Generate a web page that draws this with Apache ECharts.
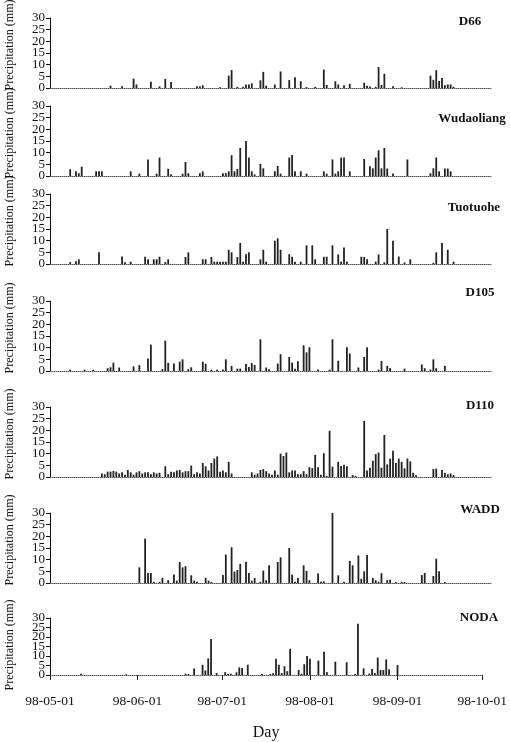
<!DOCTYPE html>
<html><head><meta charset="utf-8">
<script src="https://cdn.jsdelivr.net/npm/echarts@6/dist/echarts.min.js"></script>
<style>html,body{margin:0;padding:0;background:#fff}#c{width:510px;height:742px}</style>
</head><body><div id="c"></div><script>
// Station names (panel labels)
const stations = ['D66','Wudaoliang','Tuotuohe','D105','D110','WADD','NODA'];
// Month-start tick labels on the day axis
const tickLabels = ['98-05-01','98-06-01','98-07-01','98-08-01','98-09-01','98-10-01'];
// Precipitation tick labels
const yTicks = [0,5,10,15,20,25,30];
// Daily precipitation (mm): [day index since 1998-05-01, value]
const d66 = [[21,1],[25,0.8],[29,4],[30,1.5],[35,2.7],[38,0.7],[40,3.9],[42,2.6],[51,0.7],[52,0.7],[53,1.2],[59,0.3],[62,5.3],[63,7.7],[65,0.5],[67,0.5],[68,1.5],[69,1.5],[70,2],[73,3.3],[74,6.9],[75,1],[78,1.5],[80,7.1],[83,3.4],[85,4.6],[87,2.9],[89,0.4],[92,0.5],[95,7.9],[96,1.3],[99,2.9],[100,1.5],[102,1.2],[104,1.8],[109,2.3],[110,1],[111,0.6],[113,0.5],[114,9],[115,1.3],[116,6.1],[119,0.8],[122,0.3],[132,5.3],[133,3.5],[134,7.6],[135,3],[136,4.3],[137,1.2],[138,1.5],[139,1.5],[140,0.5]];
const wudaoliang = [[7,2.9],[9,2],[10,1.2],[11,4],[16,2],[17,2],[18,2],[28,2],[31,1],[34,7.1],[37,1],[38,7.9],[41,3.1],[42,0.8],[46,1],[47,6],[48,1.2],[52,1.2],[53,2],[60,1.2],[61,1.2],[62,2],[63,8.9],[64,2],[65,3],[66,12],[68,15],[69,7.9],[70,2],[71,0.7],[73,5.2],[74,3.3],[78,2],[79,4.3],[80,1],[83,7.9],[84,9],[85,2],[87,2],[89,1],[95,2],[96,1],[98,7.1],[99,1],[100,2],[101,7.9],[102,7.9],[104,2],[109,7.3],[111,4.2],[112,3.3],[113,7.9],[114,11],[115,3.3],[116,12],[117,3.2],[119,1.1],[124,7.1],[132,1.2],[133,3.3],[134,7.9],[135,2],[137,3.2],[138,3.2],[139,2]];
const tuotuohe = [[7,0.8],[9,1.2],[10,2],[17,5],[25,3.2],[26,0.7],[28,1],[33,3.1],[34,2],[36,2],[37,2],[38,3.1],[40,0.8],[41,2],[47,3],[48,5],[53,2],[54,2],[56,3],[57,1],[58,1],[59,1],[60,1],[61,1],[62,6.1],[63,5],[65,3],[66,9],[67,1],[68,4.2],[69,5],[73,2],[74,6.1],[75,1],[78,10],[79,11],[80,6.1],[83,4.2],[84,3.1],[85,1],[87,1],[89,8],[91,8],[92,2],[95,3.1],[96,3.1],[98,8],[100,4.1],[101,1],[102,7.1],[103,1],[108,3.1],[109,3],[110,2],[113,1],[114,4.1],[116,0.7],[117,15],[119,10],[121,3.2],[123,0.7],[125,2],[133,0.5],[134,5],[136,9],[138,6.1],[140,1]];
const d105 = [[7,0.6],[12,0.5],[15,0.5],[20,1.2],[21,1.6],[22,3.6],[24,1.5],[29,2],[31,2.5],[34,5.4],[35,11.3],[39,0.8],[40,13],[41,3.5],[43,3.2],[45,4],[46,5],[48,0.8],[49,1.6],[53,4],[54,3.1],[56,0.6],[58,0.6],[60,0.6],[61,5],[63,2.2],[65,1],[66,1],[68,3],[69,1.7],[70,3.4],[71,2.6],[73,13.6],[75,1.5],[76,0.8],[79,3.2],[80,7.2],[83,6],[84,3.6],[85,1],[86,4.2],[88,11],[89,8],[90,10.2],[93,0.6],[97,0.6],[98,13.6],[100,4.4],[103,10.2],[104,7.5],[107,1.5],[109,6],[110,10.2],[114,0.6],[115,4.3],[117,2.2],[118,1.3],[123,1],[129,2.8],[130,1.2],[132,0.6],[133,5],[134,1.2],[137,2.2]];
const d110 = [[18,1.5],[19,1.2],[20,2.3],[21,2.3],[22,2.6],[23,2.3],[24,1.5],[25,2],[26,1],[27,3],[28,2],[29,1],[30,2],[31,2.5],[32,1.5],[33,2],[34,2],[35,1.2],[36,2],[37,1.5],[38,1.8],[40,4.6],[41,1.2],[42,2.2],[43,2],[44,2.8],[45,3],[46,2],[47,2.5],[48,2.5],[49,4.9],[50,1.2],[51,2],[52,1.5],[53,6],[54,4.6],[55,2.8],[56,6],[57,7.9],[58,8.8],[59,2.3],[60,2.8],[61,2],[62,6.5],[63,1.5],[70,2],[71,1],[72,1.5],[73,3],[74,3.4],[75,2.5],[76,1.5],[77,1],[78,2.8],[79,1],[80,10],[81,9],[82,10.5],[83,2],[84,2.8],[85,2.8],[86,1.2],[87,1.2],[88,2.5],[89,1.2],[90,4.2],[91,3.8],[92,9.5],[93,4.2],[94,1],[95,10.2],[96,0.5],[97,19.8],[98,4.4],[100,6.5],[101,4.7],[102,5.2],[103,4.6],[105,0.8],[106,0.5],[109,24],[110,2.8],[111,4],[112,7],[113,9.8],[114,10.5],[115,4],[116,18],[117,5.4],[118,7.9],[119,11.2],[120,6],[121,7.9],[122,6.5],[123,3.7],[124,7.9],[125,6.7],[126,1.8],[127,0.8],[133,3.4],[134,3.6],[136,3],[137,1.8],[138,1.2],[139,1.5],[140,0.8]];
const wadd = [[31,6.7],[33,19],[34,4.3],[35,4.3],[36,0.5],[38,0.5],[39,2.2],[41,1.2],[43,3.6],[44,1],[45,9],[46,6.7],[47,7.2],[49,3.3],[50,1],[51,0.5],[54,2.2],[55,1],[56,0.4],[60,3.4],[61,12.2],[63,15.3],[64,4.9],[65,5.6],[66,8.2],[68,9.1],[69,4.3],[70,1],[71,2.2],[73,0.5],[74,5.3],[75,1.2],[76,7.6],[79,9],[80,11],[83,15],[84,3.6],[85,0.5],[86,2.2],[88,7.6],[89,5.2],[90,1.2],[93,4.1],[94,0.5],[95,0.7],[98,30],[100,3.3],[102,0.5],[104,9.5],[105,7.6],[107,11.8],[108,1.8],[109,5],[110,12],[112,2.2],[113,1.2],[114,0.5],[115,4.2],[117,1.2],[118,1.4],[120,0.4],[122,0.5],[123,0.4],[129,3.4],[130,4.3],[133,3],[134,10.4],[135,5],[137,0.4]];
const noda = [[11,0.7],[27,0.4],[48,0.7],[49,0.5],[51,3.4],[54,5.4],[55,2.4],[56,8.7],[57,19],[59,1],[62,1.5],[63,0.5],[64,0.7],[66,1.4],[67,4],[68,3.7],[70,5.4],[75,0.6],[78,0.5],[79,1],[80,8.5],[81,5.4],[82,1],[83,4.6],[84,2],[85,13.8],[88,2.6],[89,0.7],[90,5.7],[91,10],[92,8.5],[95,7.6],[97,12.2],[98,1.5],[101,7],[105,6.7],[108,0.6],[109,27],[111,3.5],[113,0.8],[114,3.2],[115,1],[116,9.2],[117,2.6],[118,2.6],[119,8.2],[120,3],[123,5.2]];

const series = [d66, wudaoliang, tuotuohe, d105, d110, wadd, noda];

// Day categories 98-05-01 .. 98-10-01
const base = Date.UTC(1998,4,1), nDays = 154;
const pad = n => (n<10?'0':'')+n;
const categories = [];
for (let i=0;i<nDays;i++){const d=new Date(base+i*864e5);categories.push(String(d.getUTCFullYear()).slice(2)+'-'+pad(d.getUTCMonth()+1)+'-'+pad(d.getUTCDate()));}

const gridTops = [18,106,194,301,407,513,618];
const gridH = 70;
const labelPos = [[470,22],[472,119],[474,208],[480,293],[480,406],[480,510],[479,618]];
const serif = '"Liberation Serif","DejaVu Serif",serif';
const isTick = (idx, val) => tickLabels.indexOf(val) >= 0;
// split y tick labels over two coincident axes so none get hidden by overlap logic
const yLabelsA = yTicks.filter(v => v % 10 === 0);
const yLabelsB = yTicks.filter(v => v % 10 !== 0);
const yLabelStyle = {margin:5,fontFamily:serif,fontSize:13,color:'#111',showMinLabel:true,showMaxLabel:true,hideOverlap:false};

const grids=[], xAxes=[], yAxes=[], ser=[], graphics=[];
series.forEach((pairs,i)=>{
  const last = i===series.length-1;
  const vals = new Array(nDays).fill(null);
  pairs.forEach(([d,v])=>{vals[d]=v;});
  grids.push({left:50,right:19,top:gridTops[i],height:gridH});
  xAxes.push({type:'category',gridIndex:i,data:categories,boundaryGap:false,
    axisLine:{lineStyle:{color:'#555',type:'dotted',width:1}},
    axisTick:{show:last,interval:isTick,length:5,lineStyle:{color:'#222'}},
    axisLabel:{show:last,interval:isTick,margin:19,fontFamily:serif,fontSize:13.5,color:'#111',hideOverlap:false},
    splitLine:{show:false},
    name:last?'Day':'',nameLocation:'middle',nameGap:50,
    nameTextStyle:{fontFamily:serif,fontSize:16,color:'#111'}});
  const yA = yAxes.length;
  yAxes.push({type:'value',gridIndex:i,min:0,max:30,interval:5,position:'left',
    axisLine:{show:true,lineStyle:{color:'#111',width:1}},
    axisTick:{show:true,length:4,lineStyle:{color:'#111'}},
    axisLabel:Object.assign({customValues:yLabelsA},yLabelStyle),
    splitLine:{show:false}});
  yAxes.push({type:'value',gridIndex:i,min:0,max:30,interval:5,position:'left',offset:0,
    axisLine:{show:false},axisTick:{show:false},
    axisLabel:Object.assign({customValues:yLabelsB},yLabelStyle),
    splitLine:{show:false}});
  ser.push({type:'bar',xAxisIndex:i,yAxisIndex:yA,data:vals,barWidth:1.8,
    itemStyle:{color:'#222'},silent:true});
  graphics.push({type:'text',x:labelPos[i][0],y:labelPos[i][1],
    style:{text:stations[i],font:'bold 13px '+serif,fill:'#111',textAlign:'center',textVerticalAlign:'middle'}});
  graphics.push({type:'text',x:10,y:gridTops[i]+gridH-43,rotation:Math.PI/2,
    style:{text:'Precipitation (mm)',font:'12px '+serif,fill:'#111',textAlign:'center',textVerticalAlign:'middle'}});
});

const chart = echarts.init(document.getElementById('c'),null,{renderer:'canvas'});
chart.setOption({animation:false,backgroundColor:'#fff',grid:grids,xAxis:xAxes,yAxis:yAxes,series:ser,graphic:graphics});
</script></body></html>
